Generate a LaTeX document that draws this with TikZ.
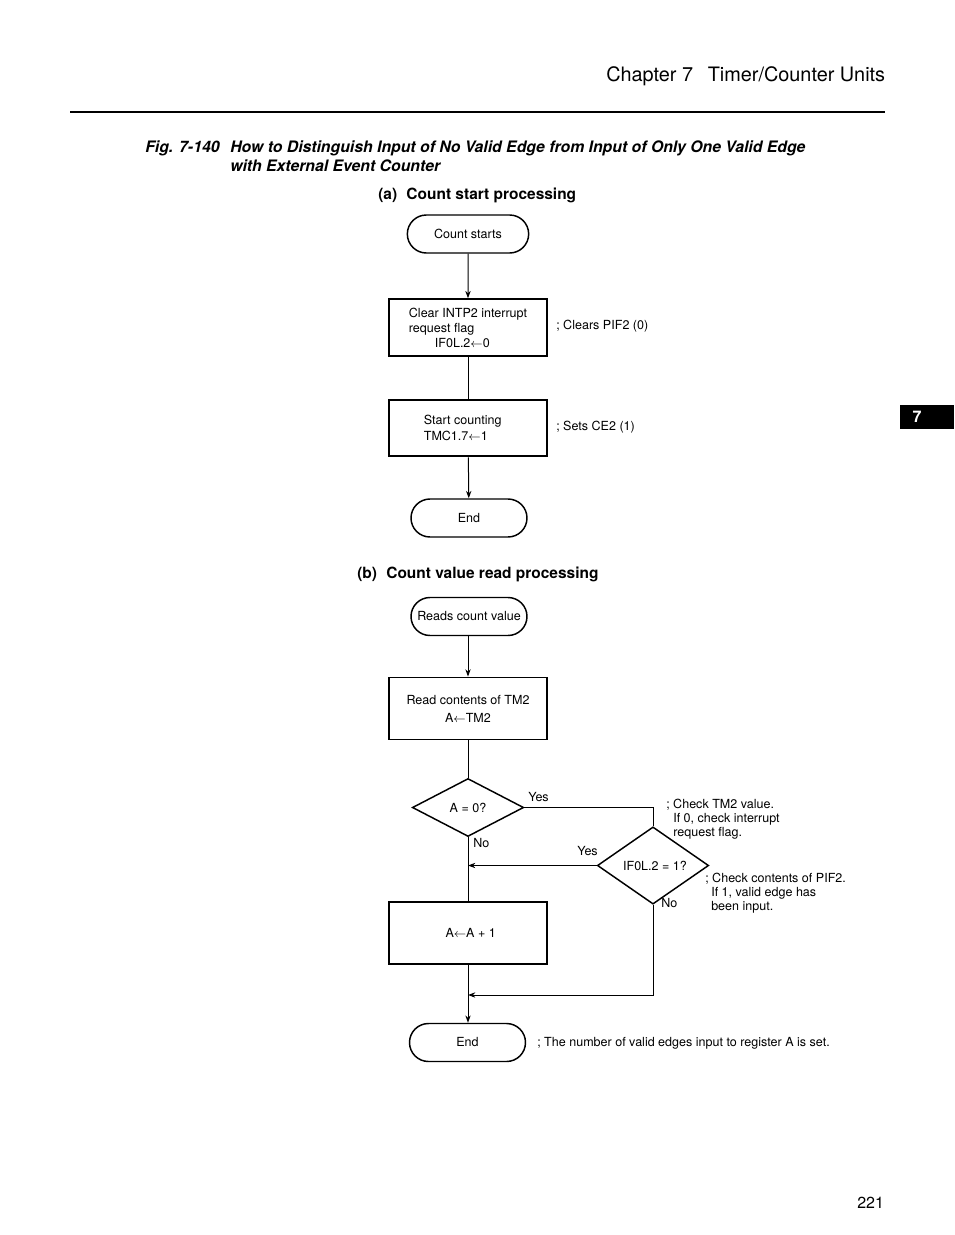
\documentclass[tikz,border=0pt]{standalone}
\usepackage{fontspec}
\setmainfont{TeX Gyre Heros}
\usetikzlibrary{shapes.geometric,shapes.misc,arrows.meta}
\begin{document}
\begin{tikzpicture}[x=0.75pt,y=-0.75pt,
  every node/.style={font=\fontsize{9.4}{11.25}\selectfont, inner sep=0pt},
  proc/.style={draw, line width=1.4pt, minimum width=118pt, minimum height=42.5pt},
  term/.style={draw, rounded rectangle, line width=1.1pt, minimum width=87pt, minimum height=28.5pt},
  dec/.style={draw, diamond, line width=1.1pt, minimum width=83.5pt, minimum height=43.5pt},
  conn/.style={line width=0.75pt},
  arr/.style={conn, -{Stealth[length=5.5pt,width=4pt]}},
  note/.style={anchor=mid west},
  head/.style={anchor=mid west, font=\fontsize{11.6}{13}\selectfont\bfseries},
  figcap/.style={anchor=mid west, font=\fontsize{11.85}{13}\selectfont\bfseries\itshape},
]
\useasboundingbox (0,0) rectangle (954,1235);

% page header
\node[anchor=mid west, font=\fontsize{14.9}{17}\selectfont] (title) at (606,78.5) {Chapter 7\hspace{11pt}Timer/Counter Units};
\draw[line width=1.5pt] (70,112) -- (885,112);
\fill (900,405) rectangle (954,429);
\node[font=\fontsize{12}{14}\selectfont\bfseries, text=white] (tab) at (917,417) {7};
\node[anchor=mid west, font=\fontsize{12}{14}\selectfont] (pg) at (857,1204.5) {221};

% caption
\node[figcap] (fig) at (145,149) {Fig. 7-140};
\node[figcap] (cap1) at (230,149) {How to Distinguish Input of No Valid Edge from Input of Only One Valid Edge};
\node[figcap] (cap2) at (230,168) {with External Event Counter};

% (a)
\node[head] (ha) at (378,196) {(a)\hspace{7pt}Count start processing};
\node[term, minimum width=91pt] (s1) at (468,234) {Count starts};
\node[proc, align=left] (p1) at (468,327.5) {Clear INTP2 interrupt\\request flag\\\hspace*{19.5pt}IF0L.2$\leftarrow$0};
\node[note] (n1) at (556,326.5) {; Clears PIF2 (0)};
\node[proc, align=left, font=\fontsize{9.4}{12}\selectfont] (p2) at (468,428) {Start counting\hspace*{8pt}\\TMC1.7$\leftarrow$1};
\node[note] (n2) at (556,427.5) {; Sets CE2 (1)};
\node[term] (e1) at (469,518) {End};
\draw[arr] (s1) -- (p1);
\draw[conn] (p1) -- (p2);
\draw[arr] (p2) -- (e1);

% (b)
\node[head] (hb) at (357,575) {(b)\hspace{7pt}Count value read processing};
\node[term] (s2) at (469,616.5) {Reads count value};
\node[proc, align=center, font=\fontsize{9.4}{13.5}\selectfont, minimum height=46.5pt] (p3) at (468,708.5) {Read contents of TM2\\A$\leftarrow$TM2};
\node[dec] (d1) at (468,807.5) {A = 0?};
\node[dec] (d2) at (653,865.5) {\hspace*{3pt}IF0L.2 = 1?};
\node[proc, minimum height=46.5pt] (p4) at (468,933) {\hspace*{4pt}A$\leftarrow$A + 1};
\node[term] (e2) at (467.5,1042.5) {End};
\coordinate (j2) at (468,995);

\draw[arr] (s2.south -| p3.north) -- (p3.north);
\draw[conn] (p3) -- (d1);
\draw[conn] (d1.east) -- (d1.east -| d2.north) -- (d2.north);
\draw[conn] (d1.south) -- (p4.north);
\draw[arr] (d2.west) -- (d2.west -| d1.south);
\draw[arr] (d2.south) |- (j2);
\draw[arr] (p4) -- (p4.south |- e2.north);

\node[note] (y1) at (528,797.5) {Yes};
\node[note] (no1) at (473,844) {No};
\node[note] (y2) at (577,852) {Yes};
\node[note] (no2) at (661,904) {No};

\node[note] (c1) at (666,804.5) {; Check TM2 value.};
\node[note] (c2) at (673,818.5) {If 0, check interrupt};
\node[note] (c3) at (673,832.5) {request flag.};
\node[note] (c4) at (705,878.5) {; Check contents of PIF2.};
\node[note] (c5) at (711,892.5) {If 1, valid edge has};
\node[note] (c6) at (711,906.5) {been input.};
\node[note] (c7) at (537,1042.5) {; The number of valid edges input to register A is set.};
\end{tikzpicture}
\end{document}
